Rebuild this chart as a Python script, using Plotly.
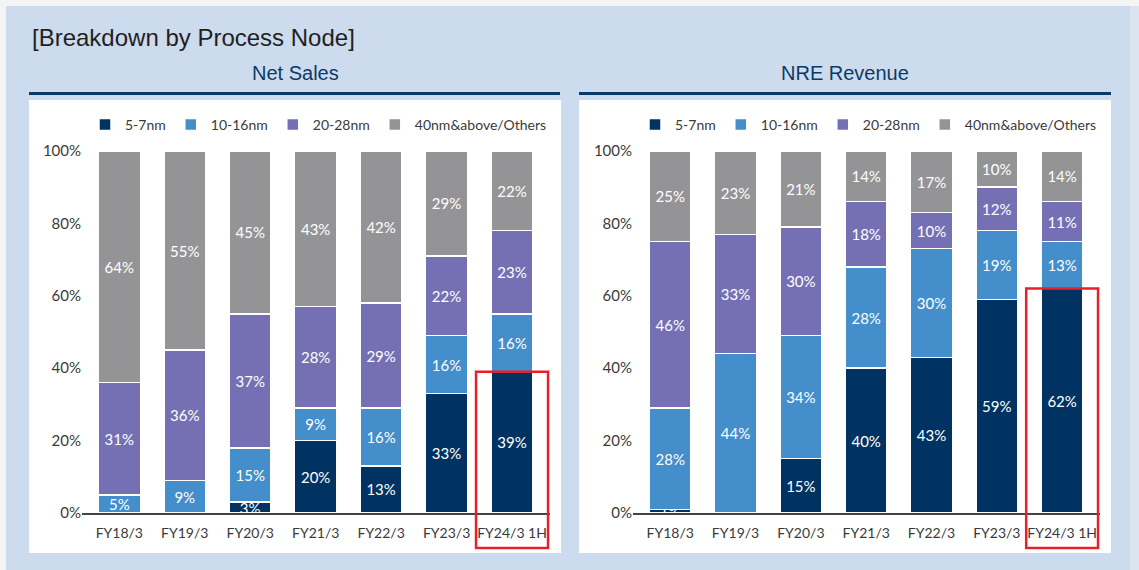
import plotly.graph_objects as go
from plotly.subplots import make_subplots

categories = ["FY18/3", "FY19/3", "FY20/3", "FY21/3", "FY22/3", "FY23/3", "FY24/3 1H"]
series_names = ["5-7nm", "10-16nm", "20-28nm", "40nm&above/Others"]

net_5_7 = [0, 0, 3, 20, 13, 33, 39]
net_10_16 = [5, 9, 15, 9, 16, 16, 16]
net_20_28 = [31, 36, 37, 28, 29, 22, 23]
net_40_above = [64, 55, 45, 43, 42, 29, 22]

nre_5_7 = [1, 0, 15, 40, 43, 59, 62]
nre_10_16 = [28, 44, 34, 28, 30, 19, 13]
nre_20_28 = [46, 33, 30, 18, 10, 12, 11]
nre_40_above = [25, 23, 21, 14, 17, 10, 14]

y_ticks = [0, 20, 40, 60, 80, 100]
y_tick_labels = ["0%", "20%", "40%", "60%", "80%", "100%"]

colors = ["#013362", "#438ecb", "#7570b3", "#949496"]

W, H = 1139, 570
px = lambda x: x / W
py = lambda y: 1 - y / H

Y_DOM = [py(513), py(151)]
X_DOM_L = [px(82), px(550)]
X_DOM_R = [px(633), px(1100)]
X_RANGE = [-0.57, 6.58]

fig = make_subplots(rows=1, cols=2, horizontal_spacing=0.05)

label_font = dict(family="Lato, Noto Sans, sans-serif", size=15, color="white")

def add_panel(col, series, legend_id):
    for name, vals, c in zip(series_names, series, colors):
        fig.add_trace(go.Bar(
            x=categories, y=vals, name=name,
            marker=dict(color=c, line=dict(color="white", width=1.5)),
            text=[f"{v}%" if v > 0 else "" for v in vals],
            textposition="inside", insidetextanchor="middle",
            constraintext="none", textangle=0,
            textfont=label_font,
            hoverinfo="skip",
            legend=legend_id,
        ), row=1, col=col)

add_panel(1, [net_5_7, net_10_16, net_20_28, net_40_above], "legend")
add_panel(2, [nre_5_7, nre_10_16, nre_20_28, nre_40_above], "legend2")

x_tick_font = dict(family="Lato, Noto Sans, sans-serif", size=14, color="#3a3a3a")
y_tick_font = dict(family="Lato, Noto Sans, sans-serif", size=15, color="#3a3a3a")

for i, dom in ((1, X_DOM_L), (2, X_DOM_R)):
    fig.update_xaxes(domain=dom, range=X_RANGE, showgrid=False, showline=True,
                     linecolor="#444444", linewidth=1.5, ticks="", tickfont=x_tick_font,
                     ticklabelstandoff=6,
                     automargin=False, fixedrange=True, row=1, col=i)
    fig.update_yaxes(domain=Y_DOM, range=[0, 100], tickmode="array",
                     tickvals=y_ticks, ticktext=y_tick_labels,
                     showgrid=False, zeroline=False, showline=False, ticks="",
                     tickfont=y_tick_font, automargin=False, fixedrange=True, row=1, col=i)

def yv(v):
    return Y_DOM[0] + v / 100 * (Y_DOM[1] - Y_DOM[0])

shapes = [
    dict(type="rect", xref="paper", yref="paper", x0=px(6), x1=px(1130), y0=0, y1=py(6),
         fillcolor="#cddbee", line=dict(width=0), layer="below"),
    dict(type="rect", xref="paper", yref="paper", x0=px(1130), x1=1, y0=0, y1=py(6),
         fillcolor="#dbe4f0", line=dict(width=0), layer="below"),
    dict(type="rect", xref="paper", yref="paper", x0=px(29), x1=px(561), y0=py(553), y1=py(100),
         fillcolor="white", line=dict(width=0), layer="below"),
    dict(type="rect", xref="paper", yref="paper", x0=px(579), x1=px(1111), y0=py(553), y1=py(100),
         fillcolor="white", line=dict(width=0), layer="below"),
    dict(type="line", xref="paper", yref="paper", x0=px(29), x1=px(560), y0=py(93.5), y1=py(93.5),
         line=dict(color="#0b3a66", width=3), layer="below"),
    dict(type="line", xref="paper", yref="paper", x0=px(579), x1=px(1111), y0=py(93.5), y1=py(93.5),
         line=dict(color="#0b3a66", width=3), layer="below"),
]

last = len(categories) - 1
for xref, val in (("x", net_5_7[last]), ("x2", nre_5_7[last])):
    shapes.append(dict(type="rect", xref=xref, yref="paper",
                       x0=last - 0.55, x1=last + 0.55, y0=py(548), y1=yv(val),
                       line=dict(color="#e8202a", width=2.5), fillcolor="rgba(0,0,0,0)",
                       layer="above"))

annotations = [
    dict(text="[Breakdown by Process Node]", xref="paper", yref="paper", x=px(30), y=py(38),
         xanchor="left", yanchor="middle", showarrow=False,
         font=dict(family="Liberation Sans, Arial, sans-serif", size=24, color="#231f20")),
    dict(text="Net Sales", xref="paper", yref="paper", x=px(295), y=py(73),
         xanchor="center", yanchor="middle", showarrow=False,
         font=dict(family="Liberation Sans, Arial, sans-serif", size=20, color="#0b3a66")),
    dict(text="NRE Revenue", xref="paper", yref="paper", x=px(845), y=py(73),
         xanchor="center", yanchor="middle", showarrow=False,
         font=dict(family="Liberation Sans, Arial, sans-serif", size=20, color="#0b3a66")),
]

legend_common = dict(orientation="h", yanchor="middle", xanchor="right",
                     bgcolor="rgba(0,0,0,0)", itemwidth=30, traceorder="normal",
                     font=dict(family="Lato, Noto Sans, sans-serif", size=14, color="#3a3a3a"),
                     itemclick=False, itemdoubleclick=False)

fig.update_layout(
    width=W, height=H,
    margin=dict(l=0, r=0, t=0, b=0, pad=0, autoexpand=False),
    paper_bgcolor="#f4f4f4",
    plot_bgcolor="rgba(0,0,0,0)",
    barmode="stack", bargap=0.36,
    shapes=shapes, annotations=annotations,
    legend=dict(x=px(552), y=py(125), **legend_common),
    legend2=dict(x=px(1102), y=py(125), **legend_common),
    showlegend=True,
)

post = "document.body.style.margin='0';"

fig.write_html("out.html", config={"displayModeBar": False}, post_script=post)
